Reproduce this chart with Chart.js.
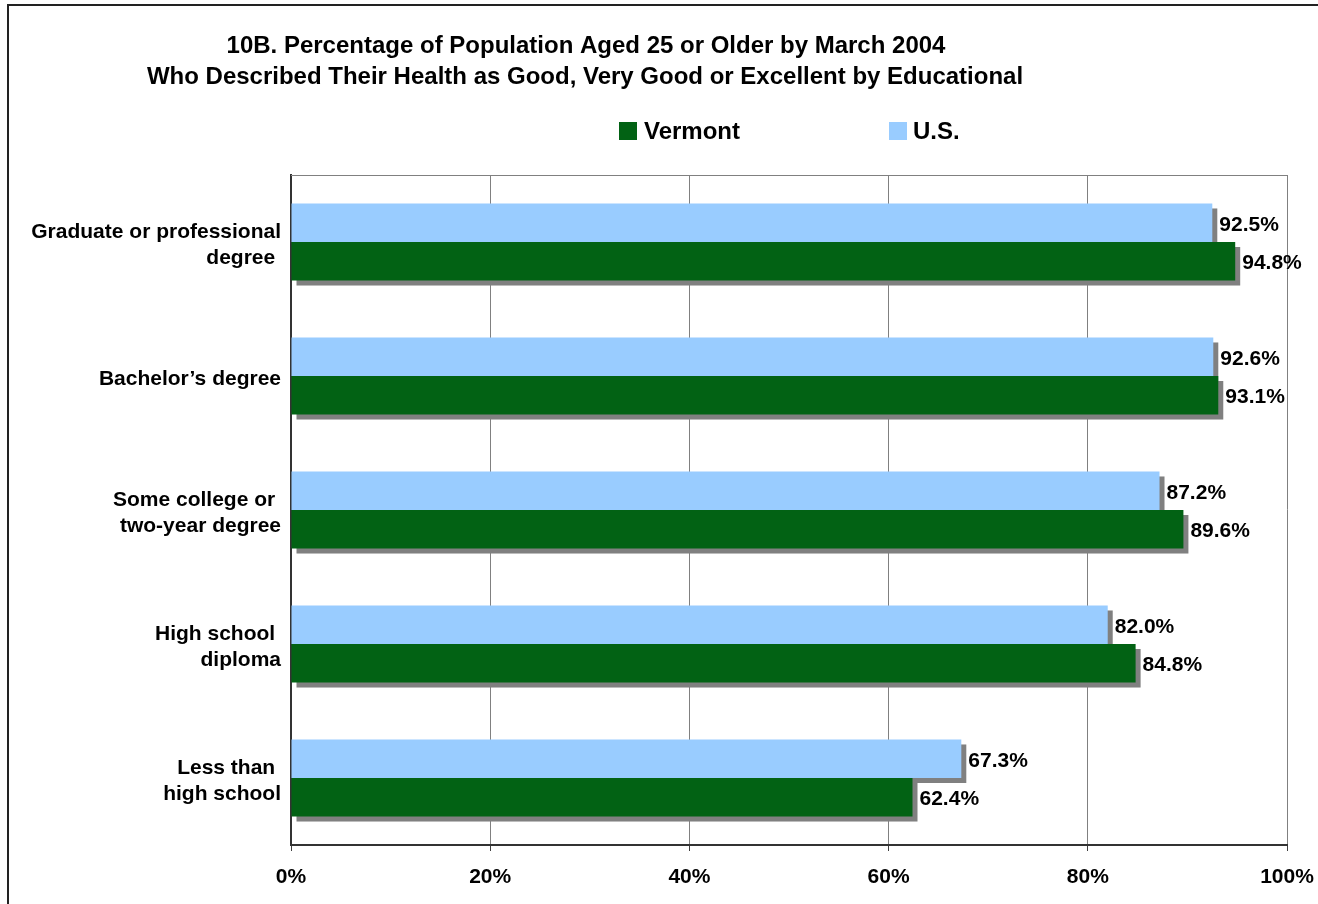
<!DOCTYPE html>
<html>
<head>
<meta charset="utf-8">
<script src="https://cdn.jsdelivr.net/npm/chart.js@4/dist/chart.umd.min.js"></script>
<style>
  html, body { margin: 0; padding: 0; background: #fff; overflow: hidden; }
  #wrap { width: 1318px; height: 904px; }
</style>
</head>
<body>
<div id="wrap"><canvas id="Chart" width="1318" height="904"></canvas></div>
<script>
// data
const categories = [
  ["Graduate or professional", "degree "],
  ["Bachelor\u2019s degree"],
  ["Some college or ", "two-year degree"],
  ["High school ", "diploma"],
  ["Less than ", "high school"],
];
const usValues = [92.5, 92.6, 87.2, 82.0, 67.3];
const vermontValues = [94.8, 93.1, 89.6, 84.8, 62.4];
const xTicks = [0, 20, 40, 60, 80, 100];

const titleLines = [
  "10B. Percentage of Population Aged 25 or Older by March 2004",
  "Who Described Their Health as Good, Very Good or Excellent by Educational",
];

const fontFam = "'Liberation Sans', Arial, sans-serif";
const green = "#026214";
const blue = "#99CCFF";

// white background + frame lines
const framePlugin = {
  id: "frame",
  beforeDraw(chart) {
    let ctx = chart.ctx;
    ctx.save();
    ctx.fillStyle = "#fff";
    ctx.fillRect(0, 0, chart.width, chart.height);
    ctx.strokeStyle = "#222";
    ctx.lineWidth = 2;
    ctx.beginPath();
    ctx.moveTo(8, chart.height);
    ctx.lineTo(8, 5);
    ctx.lineTo(chart.width, 5);
    ctx.stroke();
    ctx.restore();
  },
  afterDraw(chart) {
    let ctx = chart.ctx;
    let a = chart.chartArea;
    // top border of plot area
    ctx.save();
    ctx.strokeStyle = "#808080";
    ctx.lineWidth = 1;
    ctx.beginPath();
    ctx.moveTo(a.left, a.top + 0.5);
    ctx.lineTo(a.right, a.top + 0.5);
    ctx.stroke();
    ctx.restore();
  },
};

// title and legend
const headPlugin = {
  id: "head",
  afterDraw(chart) {
    let ctx = chart.ctx;
    ctx.save();
    ctx.fillStyle = "#000";
    ctx.font = "bold 24px " + fontFam;
    ctx.textAlign = "center";
    ctx.textBaseline = "middle";
    ctx.fillText(titleLines[0], 586, 46);
    ctx.fillText(titleLines[1], 585, 77);

    ctx.textAlign = "left";
    ctx.fillStyle = green;
    ctx.fillRect(619, 122, 18, 18);
    ctx.fillStyle = blue;
    ctx.fillRect(889, 122, 18, 18);
    ctx.fillStyle = "#000";
    ctx.fillText("Vermont", 644, 132);
    ctx.fillText("U.S.", 913, 132);
    ctx.restore();
  },
};

// gray drop shadows behind every bar
const shadowPlugin = {
  id: "shadows",
  beforeDatasetsDraw(chart) {
    let ctx = chart.ctx;
    ctx.save();
    ctx.fillStyle = "#808080";
    chart.data.datasets.forEach((ds, i) => {
      chart.getDatasetMeta(i).data.forEach((bar) => {
        let p = bar.getProps(["x", "y", "base", "height"], true);
        ctx.fillRect(p.base + 5, p.y - p.height / 2 + 5, p.x - p.base, p.height);
      });
    });
    ctx.restore();
  },
};

// value labels at bar ends
const valuePlugin = {
  id: "values",
  afterDatasetsDraw(chart) {
    let ctx = chart.ctx;
    ctx.save();
    ctx.fillStyle = "#000";
    ctx.font = "bold 21px " + fontFam;
    ctx.textAlign = "left";
    ctx.textBaseline = "middle";
    chart.data.datasets.forEach((ds, i) => {
      chart.getDatasetMeta(i).data.forEach((bar, j) => {
        let p = bar.getProps(["x", "y"], true);
        ctx.fillText(ds.data[j].toFixed(1) + "%", p.x + 7, p.y + 2);
      });
    });
    ctx.restore();
  },
};

let ctx = document.getElementById("Chart").getContext("2d");
let myChart = new Chart(ctx, {
  type: "bar",
  data: {
    labels: categories,
    datasets: [
      {
        label: "U.S.",
        data: usValues,
        backgroundColor: blue,
        borderWidth: 0,
        categoryPercentage: 0.575,
        barPercentage: 1,
      },
      {
        label: "Vermont",
        data: vermontValues,
        backgroundColor: green,
        borderWidth: 0,
        categoryPercentage: 0.575,
        barPercentage: 1,
      },
    ],
  },
  options: {
    indexAxis: "y",
    responsive: false,
    animation: false,
    layout: {
      padding: { top: 175, right: 31, bottom: 0, left: 10 },
    },
    plugins: {
      legend: { display: false },
      title: { display: false },
      tooltip: { enabled: false },
    },
    scales: {
      x: {
        min: 0,
        max: 100,
        afterBuildTicks: (scale) => {
          scale.ticks = xTicks.map((v) => ({ value: v }));
        },
        afterFit: (scale) => {
          scale.height = 59;
          scale.paddingLeft = 0;
          scale.paddingRight = 0;
        },
        grid: {
          color: "#808080",
          lineWidth: 1,
          drawTicks: true,
          tickLength: 6,
          tickColor: "#404040",
        },
        border: { color: "#333", width: 2 },
        ticks: {
          color: "#000",
          padding: 14,
          maxRotation: 0,
          font: { family: fontFam, size: 21, weight: "bold" },
          callback: (v) => v + "%",
        },
      },
      y: {
        afterFit: (scale) => {
          scale.width = 281;
        },
        grid: { display: false, drawTicks: false },
        border: { color: "#333", width: 2 },
        ticks: {
          color: "#000",
          padding: 10,
          labelOffset: 3,
          font: { family: fontFam, size: 21, weight: "bold", lineHeight: 1.25 },
        },
      },
    },
  },
  plugins: [framePlugin, shadowPlugin, valuePlugin, headPlugin],
});
</script>
</body>
</html>
